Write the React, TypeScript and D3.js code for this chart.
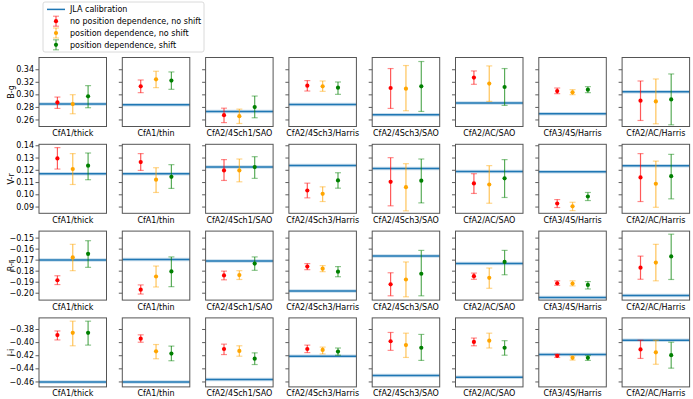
import React, { useRef, useEffect } from 'react';
import * as d3 from 'd3';

const surveys = ['CfA1/thick', 'CfA1/thin', 'CfA2/4Sch1/SAO', 'CfA2/4Sch3/Harris', 'CfA2/4Sch3/SAO', 'CfA2/AC/SAO', 'CfA3/4S/Harris', 'CfA2/AC/Harris'];
const bands = ['B-g', 'V-r', 'R-r', 'I-i'];
const seriesNames = ['no position dependence, no shift', 'position dependence, no shift', 'position dependence, shift'];
const seriesColors = ['red', 'orange', 'green'];

// JLA calibration offset, one per survey
const jlaBg = [0.2845, 0.2835, 0.2728, 0.284, 0.2675, 0.2861, 0.2691, 0.3043];
const jlaVr = [0.1168, 0.1168, 0.1222, 0.1236, 0.1211, 0.1187, 0.1184, 0.1234];
const jlaRr = [-0.1703, -0.1699, -0.1712, -0.1984, -0.1668, -0.1736, -0.2043, -0.2025];
const jlaIi = [-0.4609, -0.4609, -0.457, -0.4215, -0.4511, -0.4535, -0.419, -0.3972];

// [value, lower, upper] per survey
const bgNoPos = [[0.2872, 0.2776, 0.2957], [0.3128, 0.3027, 0.3229], [0.2669, 0.255, 0.278], [0.3139, 0.3053, 0.3219], [0.3101, 0.2776, 0.3411], [0.3267, 0.316, 0.3373], [0.3053, 0.3011, 0.3101], [0.2899, 0.2584, 0.3213]];
const bgPos = [[0.2845, 0.2691, 0.2995], [0.324, 0.3107, 0.3368], [0.2653, 0.2536, 0.2765], [0.3128, 0.3048, 0.3213], [0.3091, 0.2739, 0.3459], [0.3171, 0.2888, 0.3453], [0.3032, 0.2995, 0.3075], [0.2888, 0.2531, 0.3245]];
const bgPosShift = [[0.2968, 0.2787, 0.3139], [0.3219, 0.308, 0.3357], [0.2797, 0.2627, 0.2973], [0.3107, 0.30, 0.3197], [0.3128, 0.2728, 0.3523], [0.3117, 0.2824, 0.3411], [0.3075, 0.3027, 0.3123], [0.292, 0.2515, 0.3325]];

const vrNoPos = [[0.1293, 0.1206, 0.1381], [0.1263, 0.1195, 0.1332], [0.1195, 0.1113, 0.1283], [0.1031, 0.0971, 0.1091], [0.1102, 0.0906, 0.1299], [0.1089, 0.1007, 0.1168], [0.0925, 0.0892, 0.0957], [0.1138, 0.0941, 0.1332]];
const vrPos = [[0.1206, 0.108, 0.1332], [0.1119, 0.1015, 0.1217], [0.1195, 0.1102, 0.1288], [0.1004, 0.0941, 0.1061], [0.1058, 0.0865, 0.125], [0.108, 0.0927, 0.1234], [0.0902, 0.0867, 0.0935], [0.1086, 0.0894, 0.1271]];
const vrPosShift = [[0.1234, 0.1119, 0.1337], [0.1143, 0.1048, 0.1242], [0.1222, 0.113, 0.1307], [0.1113, 0.105, 0.1176], [0.1111, 0.093, 0.1288], [0.113, 0.0974, 0.1283], [0.0982, 0.0949, 0.1015], [0.1148, 0.0963, 0.1326]];

const rrNoPos = [[-0.1887, -0.1926, -0.1846], [-0.1972, -0.2012, -0.1929], [-0.1843, -0.1883, -0.1804], [-0.1763, -0.1791, -0.1736], [-0.1924, -0.2028, -0.1819], [-0.185, -0.1878, -0.1822], [-0.1914, -0.1933, -0.1892], [-0.1773, -0.1878, -0.1668]];
const rrPos = [[-0.168, -0.18, -0.1561], [-0.1853, -0.1948, -0.1758], [-0.184, -0.188, -0.18], [-0.1782, -0.1809, -0.1754], [-0.188, -0.2037, -0.1721], [-0.1865, -0.196, -0.1776], [-0.1917, -0.1938, -0.1892], [-0.1727, -0.1892, -0.1561]];
const rrPosShift = [[-0.1647, -0.177, -0.1528], [-0.1807, -0.1945, -0.1675], [-0.1736, -0.1797, -0.1675], [-0.1809, -0.1855, -0.1763], [-0.1828, -0.2028, -0.1616], [-0.1721, -0.1837, -0.1616], [-0.1929, -0.1966, -0.1899], [-0.1671, -0.188, -0.1469]];

const iiNoPos = [[-0.3893, -0.3967, -0.383], [-0.3948, -0.4002, -0.3889], [-0.4105, -0.419, -0.4031], [-0.4105, -0.416, -0.4046], [-0.3987, -0.4126, -0.3853], [-0.3997, -0.4056, -0.3938], [-0.4209, -0.4234, -0.4185], [-0.4111, -0.4249, -0.3972]];
const iiPos = [[-0.3859, -0.4056, -0.3681], [-0.4141, -0.4254, -0.4037], [-0.4135, -0.4215, -0.4056], [-0.412, -0.418, -0.4076], [-0.4046, -0.4234, -0.3864], [-0.3978, -0.409, -0.3864], [-0.4239, -0.4274, -0.4209], [-0.4156, -0.4338, -0.3972]];
const iiPosShift = [[-0.3859, -0.4046, -0.3681], [-0.4175, -0.4284, -0.4061], [-0.4253, -0.4342, -0.4164], [-0.4145, -0.42, -0.409], [-0.4086, -0.4279, -0.3883], [-0.4086, -0.42, -0.3978], [-0.4239, -0.4279, -0.4205], [-0.42, -0.4397, -0.4002]];

const yDomains = [[0.2488, 0.3587], [0.0845, 0.1408], [-0.2067, -0.1441], [-0.4683, -0.3631]];
const yTicks = [[0.26, 0.28, 0.30, 0.32, 0.34], [0.09, 0.10, 0.11, 0.12, 0.13, 0.14], [-0.20, -0.19, -0.18, -0.17, -0.16, -0.15], [-0.46, -0.44, -0.42, -0.40, -0.38]];

const App = () => {
  const svgRef = useRef(null);

  useEffect(() => {
    const jla = [jlaBg, jlaVr, jlaRr, jlaIi];
    const rows = [
      [bgNoPos, bgPos, bgPosShift],
      [vrNoPos, vrPos, vrPosShift],
      [rrNoPos, rrPos, rrPosShift],
      [iiNoPos, iiPos, iiPosShift],
    ];

    const width = 693;
    const height = 399;
    const font = 'DejaVu Sans, sans-serif';

    const svg = d3.select(svgRef.current);
    svg.selectAll('*').remove();
    svg.attr('width', width).attr('height', height);

    // panel grid
    const x0 = 39, colStep = 83.3, pw = 67.5;
    const y0 = 57.5, rowStep = 86.8, ph = 69;

    const x = d3.scaleLinear().domain([-1.2, 3.2]).range([0, pw]);

    const drawErr = (g, cx, y, d, color, capW) => {
      const e = g.append('g');
      e.append('line')
        .attr('x1', cx).attr('x2', cx)
        .attr('y1', y(d[1])).attr('y2', y(d[2]))
        .attr('stroke', color).attr('stroke-width', 1.2).attr('stroke-opacity', 0.65);
      [d[1], d[2]].forEach(v => {
        e.append('line')
          .attr('x1', cx - capW / 2).attr('x2', cx + capW / 2)
          .attr('y1', y(v)).attr('y2', y(v))
          .attr('stroke', color).attr('stroke-width', 1.2).attr('stroke-opacity', 0.45);
      });
      e.append('circle')
        .attr('cx', cx).attr('cy', y(d[0])).attr('r', 2.1)
        .attr('fill', color);
    };

    rows.forEach((series, r) => {
      const y = d3.scaleLinear().domain(yDomains[r]).range([ph, 0]);
      const top = y0 + r * rowStep;

      // y label
      svg.append('text')
        .attr('transform', `translate(14,${top + ph / 2}) rotate(-90)`)
        .attr('text-anchor', 'middle')
        .style('font-family', font)
        .style('font-size', '8px')
        .text(bands[r]);

      surveys.forEach((name, c) => {
        const left = x0 + c * colStep;
        const g = svg.append('g').attr('transform', `translate(${left},${top})`);

        // y ticks
        const ax = g.append('g')
          .call(d3.axisLeft(y).tickValues(yTicks[r]).tickSize(3.5).tickPadding(1.5)
            .tickFormat(c === 0 ? d3.format('.2f') : () => ''));
        ax.select('.domain').remove();
        ax.selectAll('line').attr('stroke', '#333').attr('stroke-width', 0.8);
        ax.selectAll('text')
          .style('font-family', font)
          .style('font-size', '8px')
          .attr('fill', '#000');

        // JLA calibration
        g.append('line')
          .attr('x1', 0).attr('x2', pw)
          .attr('y1', y(jla[r][c])).attr('y2', y(jla[r][c]))
          .attr('stroke', '#1f77b4').attr('stroke-width', 3.5).attr('stroke-opacity', 0.25);
        g.append('line')
          .attr('x1', 0).attr('x2', pw)
          .attr('y1', y(jla[r][c])).attr('y2', y(jla[r][c]))
          .attr('stroke', '#1f77b4').attr('stroke-width', 1.5);

        series.forEach((s, k) => {
          drawErr(g, x(k), y, s[c], seriesColors[k], 6);
        });

        // frame
        g.append('rect')
          .attr('width', pw).attr('height', ph)
          .attr('fill', 'none')
          .attr('stroke', '#555').attr('stroke-width', 1);

        g.append('text')
          .attr('x', pw / 2).attr('y', ph + 9.5)
          .attr('text-anchor', 'middle')
          .style('font-family', font)
          .style('font-size', '8px')
          .text(name);
      });
    });

    // legend
    const lg = svg.append('g');
    lg.append('rect')
      .attr('x', 43).attr('y', 2).attr('width', 161).attr('height', 50)
      .attr('rx', 2).attr('fill', 'white')
      .attr('stroke', '#d0d0d0').attr('stroke-width', 0.8);
    const rowY = [9.4, 21.2, 33, 44.8];
    lg.append('line')
      .attr('x1', 47).attr('x2', 65).attr('y1', rowY[0]).attr('y2', rowY[0])
      .attr('stroke', '#1f77b4').attr('stroke-width', 1.5);
    lg.append('text')
      .attr('x', 70).attr('y', rowY[0] + 3)
      .style('font-family', font).style('font-size', '8px')
      .text('JLA calibration');
    seriesNames.forEach((n, k) => {
      const yy = rowY[k + 1];
      const ly = d3.scaleLinear().domain([0, 1]).range([yy + 5, yy - 5]);
      drawErr(lg, 56, ly, [0.5, 0, 1], seriesColors[k], 6);
      lg.append('text')
        .attr('x', 70).attr('y', yy + 3)
        .style('font-family', font).style('font-size', '8px')
        .text(n);
    });
  }, []);

  return (
    <svg ref={svgRef} style={{ position: 'absolute', left: 0, top: 0, display: 'block', background: 'white' }}></svg>
  );
};

export default App;
